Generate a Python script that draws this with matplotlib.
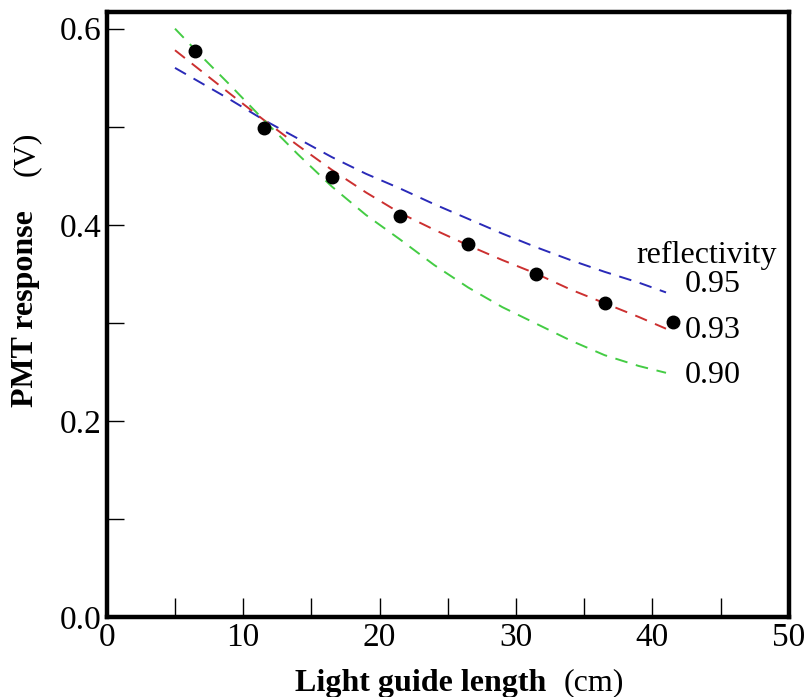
import matplotlib
matplotlib.use("Agg")
import matplotlib.pyplot as plt
from matplotlib.ticker import MultipleLocator

plt.rcParams['font.family'] = ['Liberation Serif', 'DejaVu Serif']

# measured data
length_cm = [6.5, 11.5, 16.5, 21.5, 26.5, 31.5, 36.5, 41.5]
response_v = [0.577, 0.499, 0.449, 0.409, 0.380, 0.350, 0.320, 0.301]

# model curves
curve_x = [5, 7, 9, 11.5, 14, 16.5, 19, 21.5, 24, 26.5, 29, 31.5, 34, 36.5, 39, 41]
refl_095 = [0.560, 0.544, 0.528, 0.507, 0.488, 0.469, 0.452, 0.437, 0.421, 0.406,
            0.391, 0.377, 0.364, 0.352, 0.341, 0.331]
refl_093 = [0.578, 0.556, 0.534, 0.507, 0.481, 0.456, 0.433, 0.412, 0.395, 0.379,
            0.364, 0.350, 0.334, 0.320, 0.306, 0.294]
refl_090 = [0.600, 0.571, 0.543, 0.507, 0.472, 0.439, 0.410, 0.385, 0.359, 0.336,
            0.316, 0.299, 0.282, 0.267, 0.256, 0.249]
curve_labels = ["0.95", "0.93", "0.90"]
curve_colors = ["#2a2ab8", "#cc3030", "#44cc44"]

fig = plt.figure(figsize=(8.09, 6.97), dpi=100)
ax = fig.add_axes([0.132, 0.1148, 0.843, 0.868])

for ys, c in zip([refl_095, refl_093, refl_090], curve_colors):
    ax.plot(curve_x, ys, linestyle=(0, (6.5, 4.5)), color=c, linewidth=1.4)

ax.plot(length_cm, response_v, 'o', color='black', markersize=9, zorder=5)

ax.set_xlim(0, 50)
ax.set_ylim(0, 0.617)
ax.xaxis.set_major_locator(MultipleLocator(10))
ax.xaxis.set_minor_locator(MultipleLocator(5))
ax.yaxis.set_major_locator(MultipleLocator(0.2))
ax.yaxis.set_minor_locator(MultipleLocator(0.1))
ax.yaxis.set_major_formatter(matplotlib.ticker.FormatStrFormatter('%.1f'))

ax.tick_params(which='both', direction='in', width=1.0, labelsize=24, top=False, right=False)
ax.tick_params(which='major', length=14, pad=4)
ax.tick_params(which='minor', length=14)
ax.tick_params(axis='y', which='both', length=12)
for s in ax.spines.values():
    s.set_linewidth(3.2)

ax.text(38.8, 0.369, "reflectivity", fontsize=23, ha='left', va='center')
for lab, yv in zip(curve_labels, [0.339, 0.292, 0.246]):
    ax.text(42.4, yv, lab, fontsize=23, ha='left', va='center')

fig.text(0.520, 0.020, "Light guide length", fontsize=23, fontweight='bold', ha='center', va='center')
fig.text(0.734, 0.020, "(cm)", fontsize=23, ha='center', va='center')
fig.text(0.031, 0.558, "PMT response", fontsize=23, fontweight='bold', rotation=90, ha='center', va='center')
fig.text(0.033, 0.779, "(V)", fontsize=23, rotation=90, ha='center', va='center')

fig.savefig("out.png", dpi=100)
